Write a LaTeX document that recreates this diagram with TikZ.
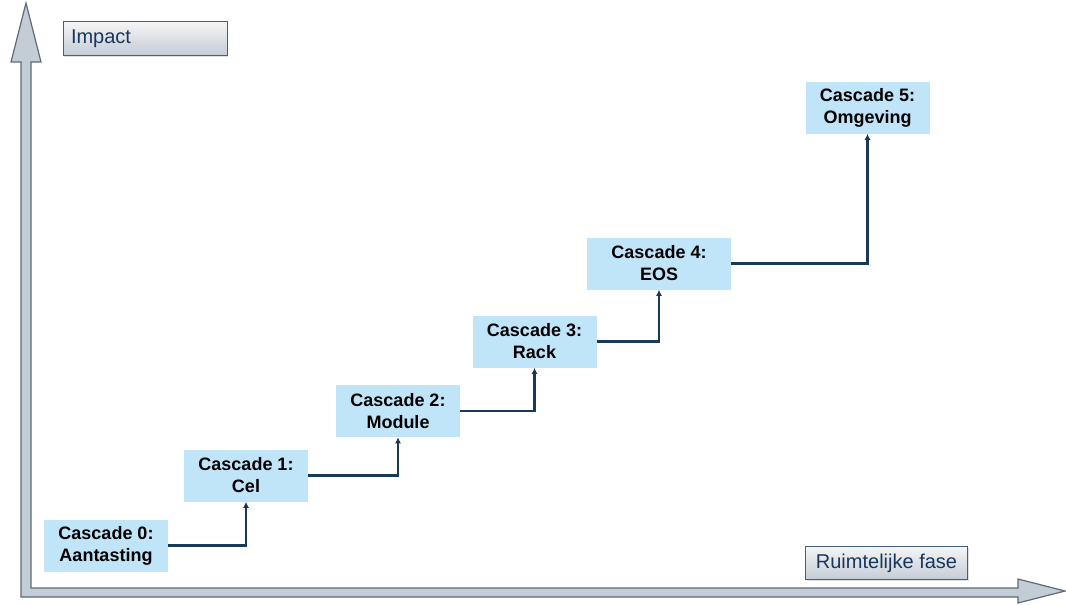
\documentclass[tikz,border=0pt]{standalone}
\usepackage{fontspec}
\setmainfont{Liberation Sans}
\usepackage{xcolor}
\usetikzlibrary{arrows.meta}
\usetikzlibrary{shadows}

\definecolor{cascfill}{RGB}{192,228,248}
\definecolor{linkcol}{RGB}{24,58,90}
\definecolor{axisfill}{RGB}{196,204,214}
\definecolor{axisdraw}{RGB}{92,106,122}
\definecolor{labtext}{RGB}{23,55,94}

\begin{document}
\begin{tikzpicture}[x=0.75pt,y=-0.75pt,
    >={Latex[width=1.6mm,length=1.6mm]},
    cascade/.style = {rectangle, fill=cascfill, inner sep=0pt,
                      minimum width=93pt, minimum height=39pt,
                      align=center, font=\fontsize{13.5}{16.5}\selectfont\bfseries},
    axislabel/.style = {rectangle, draw=labtext!80, line width=0.6pt,
                        top color=gray!8, bottom color=axisfill,
                        minimum height=25pt, inner sep=0pt,
                        text=labtext, font=\fontsize{15}{18}\selectfont,
                        drop shadow={opacity=0.25, shadow xshift=1pt, shadow yshift=-1pt}},
    link/.style = {->, draw=linkcol, line width=1.8pt}]
  \useasboundingbox (0,0) rectangle (1066,604);

  % axes
  \draw[fill=axisfill, draw=axisdraw, line width=0.9pt, line join=miter]
    (26,3) -- (41,62) -- (31,62) -- (31,588) -- (1018,588) -- (1018,579)
    -- (1065,591) -- (1018,603) -- (1018,597) -- (21,597) -- (21,62)
    -- (11,62) -- cycle;

  \node (impact) [axislabel, minimum width=123pt, text width=111pt, align=left]
    at (145,38.5) {Impact};
  \node (fase) [axislabel, minimum width=122pt, align=center]
    at (886.5,563) {Ruimtelijke fase};

  % cascades
  \node (c0) [cascade] at (106,545.5) {Cascade 0:\\Aantasting};
  \node (c1) [cascade] at (246,475.5) {Cascade 1:\\Cel};
  \node (c2) [cascade] at (398,411) {Cascade 2:\\Module};
  \node (c3) [cascade] at (534.5,341.5) {Cascade 3:\\Rack};
  \node (c4) [cascade, minimum width=108pt] at (659,263.5) {Cascade 4:\\EOS};
  \node (c5) [cascade] at (867.5,107.5) {Cascade 5:\\Omgeving};

  \draw[link] (c0.east) -| (c1.south);
  \draw[link] (c1.east) -| (c2.south);
  \draw[link] (c2.east) -| (c3.south);
  \draw[link] (c3.east) -| (c4.south);
  \draw[link] (c4.east) -| (c5.south);
\end{tikzpicture}
\end{document}
